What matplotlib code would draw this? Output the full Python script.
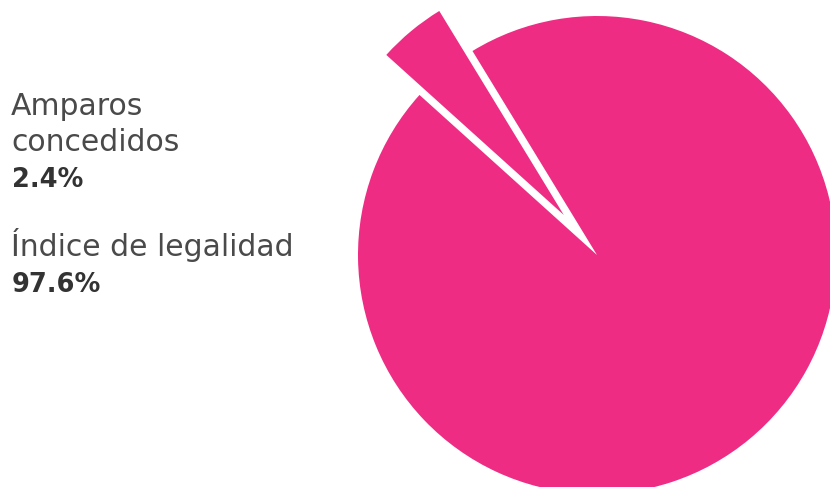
import matplotlib
matplotlib.use('Agg')
import matplotlib.pyplot as plt

# Data
labels = ['Amparos', 'concedidos', 'Índice de legalidad']
percent_labels = ['2.4%', '97.6%']
# wedge sizes as drawn in the picture (the small slice is drawn wider than 2.4%)
wedge_sizes = [4.6, 95.4]

pink = '#ee2c84'
R = 239

fig = plt.figure(figsize=(8.3, 4.87), dpi=100)
ax = fig.add_axes([0, 0, 1, 1])

ax.pie(wedge_sizes, explode=[52, 0], colors=[pink, pink],
       startangle=121.4, counterclock=True,
       center=(597, 232), radius=R,
       wedgeprops={'linewidth': 0})

ax.set_xlim(0, 830)
ax.set_ylim(0, 487)
ax.set_aspect('auto')
ax.axis('off')

# Labels on the left
font = 'DejaVu Sans'
reg = dict(fontsize=21.5, family=font, color='#4a4a4a', va='baseline')
bold = dict(fontsize=18.5, family=font, color='#333333', va='baseline',
            weight='bold')
ax.text(11, 487 - 115, labels[0], **reg)
ax.text(11, 487 - 151, labels[1], **reg)
ax.text(12, 487 - 187, percent_labels[0], **bold)
ax.text(11, 487 - 256, labels[2], **reg)
ax.text(12, 487 - 292, percent_labels[1], **bold)

fig.savefig('out.png', dpi=100)
